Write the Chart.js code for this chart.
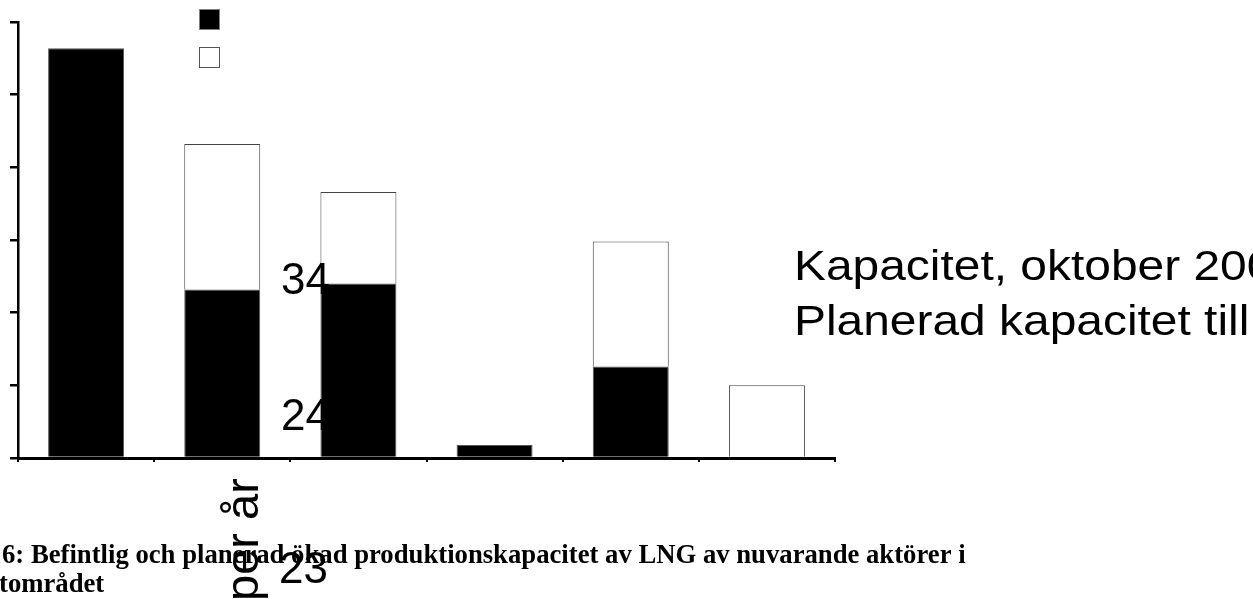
<!DOCTYPE html>
<html>
<head>
<meta charset="utf-8">
<script src="https://cdn.jsdelivr.net/npm/chart.js@4"></script>
<style>
  html, body { margin: 0; padding: 0; background: #fff; overflow: hidden; }
  #wrap { position: absolute; left: 0; top: 0; width: 1253px; height: 599px; }
</style>
</head>
<body>
<div id="wrap"><canvas id="c" width="1253" height="599"></canvas></div>
<script>
// Production capacity per producer (stacked: current + planned addition)
const categories = ['', '', '', '', '', ''];
const capacityOct = [28.2, 11.6, 12.0, 0.9, 6.3, 0];
const plannedAdd = [0, 10.0, 6.3, 0, 8.6, 5.0];
const seriesNames = ['Kapacitet, oktober 200', 'Planerad kapacitet till'];
const yTicks = [0, 5, 10, 15, 20, 25, 30];
const strayLabels = ['34', '24', '23'];
const axisTitle = 'per år';
const captionLines = [
  '6: Befintlig och planerad ökad produktionskapacitet av LNG av nuvarande aktörer i',
  'tområdet'
];

const SANS = '"Liberation Sans", Arial, sans-serif';
const SERIF = '"Liberation Serif", "Times New Roman", serif';

// Legend swatches, loose labels, rotated unit text and the figure caption
const overlay = {
  id: 'overlay',
  afterDraw(chart) {
    const ctx = chart.ctx;
    ctx.save();

    // legend swatches
    ctx.fillStyle = '#000';
    ctx.fillRect(200, 10, 20, 20);
    ctx.strokeStyle = '#808080';
    ctx.lineWidth = 1;
    ctx.strokeRect(199.5, 9.5, 20, 20);
    ctx.fillStyle = '#fff';
    ctx.fillRect(199.5, 47.5, 20, 20);
    ctx.strokeStyle = '#555';
    ctx.strokeRect(199.5, 47.5, 20, 20);

    // legend labels (wide set)
    ctx.fillStyle = '#000';
    ctx.textBaseline = 'alphabetic';
    ctx.textAlign = 'left';
    ctx.font = '43px ' + SANS;
    [[chart.data.datasets[0].label, 280], [chart.data.datasets[1].label, 335]].forEach(([t, y]) => {
      ctx.save();
      ctx.translate(794, y);
      ctx.scale(1.114, 1);
      ctx.fillText(t, 0, 0);
      ctx.restore();
    });

    // loose numbers
    ctx.font = '44px ' + SANS;
    ctx.fillText(strayLabels[0], 281, 294);
    ctx.fillText(strayLabels[1], 281, 430);
    ctx.fillText(strayLabels[2], 279, 583);

    // rotated unit text
    ctx.save();
    ctx.translate(258, 601);
    ctx.rotate(-Math.PI / 2);
    ctx.font = '47px ' + SANS;
    ctx.fillText(axisTitle, 0, 0);
    ctx.restore();

    // caption
    ctx.font = 'bold 26.7px ' + SERIF;
    ctx.fillText(captionLines[0], 2, 563);
    ctx.fillText(captionLines[1], -1, 592);

    ctx.restore();
  }
};

new Chart(document.getElementById('c'), {
  type: 'bar',
  data: {
    labels: categories,
    datasets: [
      {
        label: seriesNames[0],
        data: capacityOct,
        backgroundColor: '#000',
        borderColor: '#555',
        borderWidth: 1,
        barPercentage: 0.558,
        categoryPercentage: 1
      },
      {
        label: seriesNames[1],
        data: plannedAdd,
        backgroundColor: '#fff',
        borderColor: '#444',
        borderWidth: 1,
        barPercentage: 0.558,
        categoryPercentage: 1
      }
    ]
  },
  options: {
    responsive: false,
    devicePixelRatio: 1,
    animation: false,
    events: [],
    layout: { padding: { left: 10, top: 22, right: 418, bottom: 137 } },
    plugins: {
      legend: { display: false },
      tooltip: { enabled: false },
      title: { display: false }
    },
    scales: {
      x: {
        stacked: true,
        offset: true,
        ticks: { display: false },
        grid: {
          display: true,
          offset: true,
          drawOnChartArea: false,
          drawTicks: true,
          tickLength: 4,
          color: '#000',
          lineWidth: 2
        },
        border: { display: true, color: '#000', width: 3 },
        afterFit(s) { s.height = 4; }
      },
      y: {
        stacked: true,
        min: yTicks[0],
        max: yTicks[yTicks.length - 1],
        afterBuildTicks(s) { s.ticks = yTicks.map(v => ({ value: v })); },
        ticks: { display: false },
        grid: {
          display: true,
          drawOnChartArea: false,
          drawTicks: true,
          tickLength: 8,
          color: '#000',
          lineWidth: 2.5
        },
        border: { display: true, color: '#000', width: 2.5 },
        afterFit(s) { s.width = 8; }
      }
    }
  },
  plugins: [overlay]
});
</script>
</body>
</html>
